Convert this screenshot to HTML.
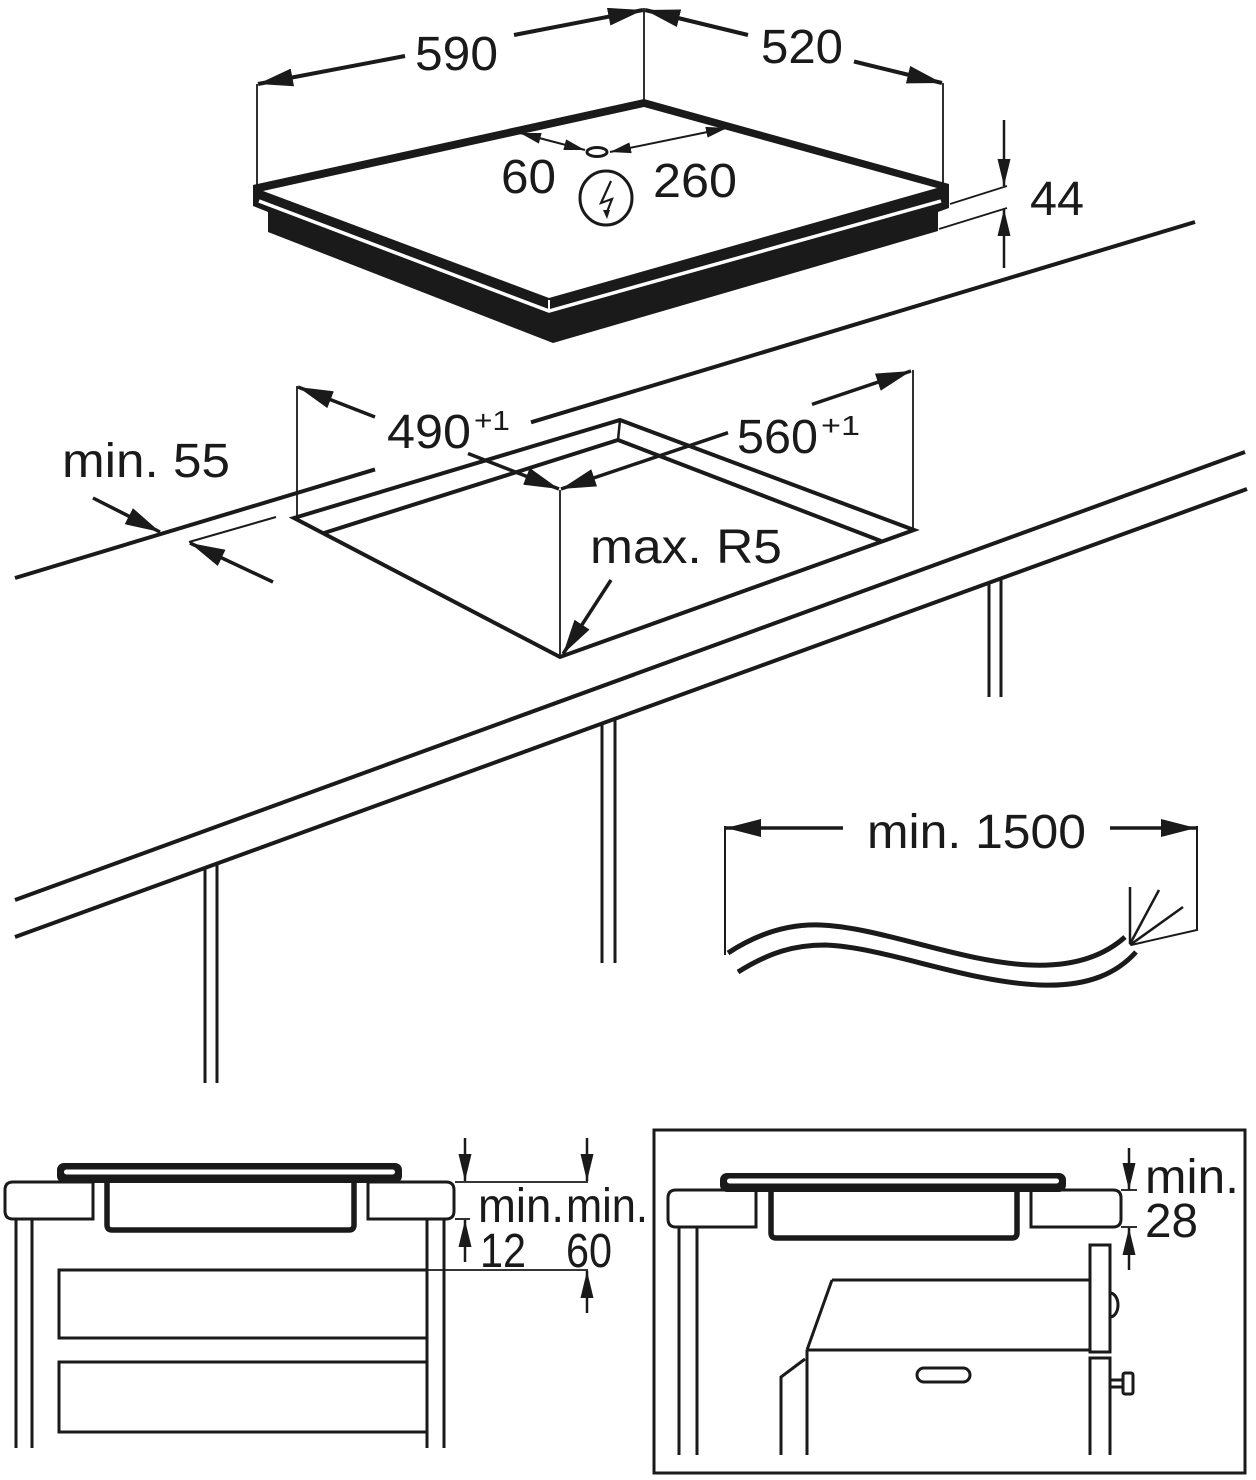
<!DOCTYPE html>
<html><head><meta charset="utf-8">
<style>
html,body{margin:0;padding:0;background:#fff;}
svg{display:block;}
text{font-family:"Liberation Sans",Arial,sans-serif;fill:#1a1a1a;}
</style></head><body>
<svg width="1256" height="1480" viewBox="0 0 1256 1480" xmlns="http://www.w3.org/2000/svg">
<defs>
<marker id="A" markerUnits="userSpaceOnUse" markerWidth="36" markerHeight="18" refX="35" refY="9" orient="auto"><path d="M0,0 L35,9 L0,18 Z" fill="#1a1a1a"/></marker>
<marker id="M" markerUnits="userSpaceOnUse" markerWidth="28" markerHeight="14" refX="27" refY="7" orient="auto"><path d="M0,0.5 L27,7 L0,13.5 Z" fill="#1a1a1a"/></marker>
<marker id="S" markerUnits="userSpaceOnUse" markerWidth="22" markerHeight="11" refX="21" refY="5.5" orient="auto"><path d="M0,0 L21,5.5 L0,11 Z" fill="#1a1a1a"/></marker>
<marker id="Ss" markerUnits="userSpaceOnUse" markerWidth="22" markerHeight="11" refX="21" refY="5.5" orient="auto-start-reverse"><path d="M0,0 L21,5.5 L0,11 Z" fill="#1a1a1a"/></marker>
</defs>

<g stroke="#1a1a1a" fill="none" stroke-linecap="butt">
<!-- ===== TOP HOB ===== -->
<!-- extension lines -->
<line x1="257" y1="84" x2="257" y2="188" stroke-width="1.8"/>
<line x1="644" y1="8" x2="644" y2="100" stroke-width="1.8"/>
<line x1="943" y1="83" x2="943" y2="186" stroke-width="1.8"/>
<!-- 590 -->
<line x1="405" y1="56" x2="258" y2="84" stroke-width="4" marker-end="url(#A)"/>
<line x1="514" y1="35" x2="643" y2="10" stroke-width="4" marker-end="url(#A)"/>
<!-- 520 -->
<line x1="748" y1="35" x2="645" y2="10" stroke-width="4" marker-end="url(#A)"/>
<line x1="854" y1="61.5" x2="942" y2="83" stroke-width="4" marker-end="url(#A)"/>
</g>

<!-- hob body -->
<polygon points="253,185 644,99 949,184 949,208 938,212 938,231 553,343 268,232 268,212 253,206" fill="#1a1a1a"/>
<polygon points="263,191 644,107 937,188 549,298" fill="#fff"/>
<polyline points="259,201 549,311 941,201" fill="none" stroke="#fff" stroke-width="3.5"/>
<line x1="549" y1="300" x2="549" y2="312" stroke="#fff" stroke-width="2"/>

<g stroke="#1a1a1a" fill="none">
<!-- 60 / 260 -->
<line x1="520" y1="133" x2="585" y2="150" stroke-width="2" marker-start="url(#Ss)" marker-end="url(#S)"/>
<line x1="610" y1="152" x2="727" y2="128" stroke-width="2" marker-start="url(#Ss)" marker-end="url(#S)"/>
<ellipse cx="597" cy="152" rx="10" ry="4.5" stroke-width="3" fill="#fff"/>
<!-- electrical symbol -->
<ellipse cx="606" cy="198" rx="26" ry="27" stroke-width="3"/>
<polyline points="611,181 601,203 612,199 607,212" stroke-width="2.2"/>
</g>
<path d="M603,210 L607,219 L610,210 Z" fill="#1a1a1a"/>

<g stroke="#1a1a1a" fill="none">
<!-- 44 -->
<line x1="950" y1="204" x2="1007" y2="186" stroke-width="1.8"/>
<line x1="939" y1="229" x2="1007" y2="208" stroke-width="1.8"/>
<line x1="1004" y1="120" x2="1004" y2="186" stroke-width="2.5" marker-end="url(#M)"/>
<line x1="1004" y1="268" x2="1004" y2="209" stroke-width="2.5" marker-end="url(#M)"/>

<!-- ===== COUNTERTOP ===== -->
<line x1="1195" y1="222" x2="531" y2="422.3" stroke-width="4"/>
<line x1="375" y1="469.4" x2="15" y2="578" stroke-width="4"/>
<line x1="189" y1="542" x2="276" y2="517" stroke-width="2"/>
<line x1="93" y1="498" x2="160" y2="532" stroke-width="3.5" marker-end="url(#A)"/>
<line x1="273" y1="582" x2="190" y2="543" stroke-width="3.5" marker-end="url(#A)"/>

<!-- cutout -->
<polygon points="294,518 620,420 914,530 560,657" stroke-width="4" stroke-linejoin="miter"/>
<polyline points="324,533 618,440 881,541" stroke-width="4"/>
<line x1="620" y1="420" x2="618" y2="440" stroke-width="2.5"/>
<!-- extension -->
<line x1="297" y1="386" x2="297" y2="518" stroke-width="1.8"/>
<line x1="913" y1="370" x2="913" y2="530" stroke-width="1.8"/>
<line x1="560" y1="490" x2="560" y2="657" stroke-width="1.8"/>
<!-- 490 -->
<line x1="375" y1="417" x2="298" y2="387" stroke-width="3.5" marker-end="url(#A)"/>
<line x1="468" y1="453.5" x2="559" y2="489" stroke-width="3.5" marker-end="url(#A)"/>
<!-- 560 -->
<line x1="728" y1="432.7" x2="561" y2="489" stroke-width="3.5" marker-end="url(#A)"/>
<line x1="812" y1="404.4" x2="911" y2="371" stroke-width="3.5" marker-end="url(#A)"/>
<!-- R5 -->
<line x1="611" y1="580" x2="563" y2="654" stroke-width="3.5" marker-end="url(#A)"/>

<!-- front lines -->
<line x1="1245" y1="452" x2="15" y2="900" stroke-width="4"/>
<line x1="1247" y1="489" x2="15" y2="937" stroke-width="4"/>
<!-- legs -->
<line x1="205" y1="867.8" x2="205" y2="1083" stroke-width="3"/>
<line x1="217" y1="863.4" x2="217" y2="1083" stroke-width="3"/>
<line x1="602" y1="723" x2="602" y2="963" stroke-width="3"/>
<line x1="615" y1="718.4" x2="615" y2="963" stroke-width="3"/>
<line x1="989" y1="582" x2="989" y2="697" stroke-width="3"/>
<line x1="1001" y1="577.8" x2="1001" y2="697" stroke-width="3"/>

<!-- ===== CABLE ===== -->
<line x1="725" y1="826" x2="725" y2="955" stroke-width="2"/>
<line x1="843" y1="828" x2="726" y2="828" stroke-width="3.5" marker-end="url(#A)"/>
<line x1="1110" y1="828" x2="1196" y2="828" stroke-width="3.5" marker-end="url(#A)"/>
<polyline points="1197,826 1197,930 1131,945" stroke-width="2"/>
<path d="M728,953 C760,932 790,924 820,925 C880,927 960,962 1030,965 C1075,967 1105,955 1125,937" stroke-width="5"/>
<path d="M738,972 C770,952 795,945 825,945 C885,947 965,982 1040,985 C1090,987 1118,972 1136,952" stroke-width="5"/>
<line x1="1130" y1="887" x2="1130" y2="944" stroke-width="2.5"/>
<line x1="1130" y1="944" x2="1159" y2="890" stroke-width="2.5"/>
<line x1="1130" y1="945" x2="1183" y2="907" stroke-width="2.5"/>
</g>

<!-- ===== BOTTOM LEFT ===== -->
<rect x="57" y="1163" width="345" height="20" rx="7" fill="#1a1a1a"/>
<rect x="64" y="1169.5" width="331" height="5" rx="2.5" fill="#fff"/>
<g stroke="#1a1a1a" fill="none" stroke-width="3">
<path d="M93,1182 H13 Q5,1182 5,1190 V1211 Q5,1219 13,1219 H93 Z"/>
<path d="M368,1182 H446 Q454,1182 454,1190 V1211 Q454,1219 446,1219 H368 Z"/>
<path d="M107,1183 V1225 Q107,1230 112,1230 H349 Q354,1230 354,1225 V1183" stroke-width="5.5"/>
<line x1="16" y1="1219" x2="16" y2="1448"/>
<line x1="32" y1="1219" x2="32" y2="1448"/>
<line x1="427" y1="1219" x2="427" y2="1448"/>
<line x1="444" y1="1219" x2="444" y2="1448"/>
<path d="M427,1270 H59 V1338 H427"/>
<path d="M427,1362 H59 V1432 H427"/>
<line x1="455" y1="1182" x2="588" y2="1182" stroke-width="1.8"/>
<line x1="455" y1="1219" x2="470" y2="1219" stroke-width="1.8"/>
<line x1="427" y1="1270" x2="588" y2="1270" stroke-width="1.8"/>
<line x1="465" y1="1138" x2="465" y2="1181" stroke-width="2.5" marker-end="url(#M)"/>
<line x1="465" y1="1262" x2="465" y2="1220" stroke-width="2.5" marker-end="url(#M)"/>
<line x1="587" y1="1138" x2="587" y2="1181" stroke-width="2.5" marker-end="url(#M)"/>
<line x1="587" y1="1313" x2="587" y2="1271" stroke-width="2.5" marker-end="url(#M)"/>
</g>

<!-- ===== BOTTOM RIGHT ===== -->
<rect x="654" y="1130" width="591" height="343" fill="none" stroke="#1a1a1a" stroke-width="3"/>
<rect x="720" y="1173" width="346" height="19" rx="7" fill="#1a1a1a"/>
<rect x="727" y="1178.5" width="332" height="5" rx="2.5" fill="#fff"/>
<g stroke="#1a1a1a" fill="none" stroke-width="3">
<path d="M756,1190 H676 Q668,1190 668,1198 V1219 Q668,1227 676,1227 H756 Z"/>
<path d="M1031,1190 H1113 Q1121,1190 1121,1198 V1219 Q1121,1227 1113,1227 H1031 Z"/>
<path d="M771,1192 V1233 Q771,1238 776,1238 H1012 Q1017,1238 1017,1233 V1192" stroke-width="5.5"/>
<line x1="679" y1="1227" x2="679" y2="1455"/>
<line x1="697" y1="1227" x2="697" y2="1455"/>
<line x1="1121" y1="1190" x2="1137" y2="1190" stroke-width="1.8"/>
<line x1="1121" y1="1227" x2="1137" y2="1227" stroke-width="1.8"/>
<line x1="1129" y1="1148" x2="1129" y2="1190" stroke-width="2.5" marker-end="url(#M)"/>
<line x1="1129" y1="1270" x2="1129" y2="1228" stroke-width="2.5" marker-end="url(#M)"/>
<!-- oven -->
<line x1="832" y1="1280" x2="1090" y2="1280"/>
<line x1="832" y1="1280" x2="807" y2="1350"/>
<line x1="807" y1="1350" x2="1090" y2="1350"/>
<line x1="807" y1="1350" x2="807" y2="1455"/>
<polyline points="781,1455 781,1377 805,1359"/>
<rect x="1090" y="1245" width="20" height="107"/>
<path d="M1090,1455 V1358 H1110 V1455"/>
<path d="M1110,1293 A8,12 0 0 1 1110,1317"/>
<rect x="1110" y="1380" width="13" height="7"/>
<rect x="1123" y="1373" width="10" height="21" rx="2"/>
<rect x="917" y="1368" width="53" height="14" rx="7"/>
</g>

<!-- ===== TEXT ===== -->
<g font-size="48">
<text x="415" y="70" textLength="83" lengthAdjust="spacingAndGlyphs">590</text>
<text x="761" y="63" textLength="82" lengthAdjust="spacingAndGlyphs">520</text>
<text x="501" y="193" textLength="55" lengthAdjust="spacingAndGlyphs">60</text>
<text x="653" y="197" textLength="84" lengthAdjust="spacingAndGlyphs">260</text>
<text x="1030" y="215" textLength="54" lengthAdjust="spacingAndGlyphs">44</text>
<text x="62" y="477" textLength="168" lengthAdjust="spacingAndGlyphs">min. 55</text>
<text x="387" y="448" textLength="84" lengthAdjust="spacingAndGlyphs">490</text>
<text x="737" y="453" textLength="81" lengthAdjust="spacingAndGlyphs">560</text>
<text x="590" y="563" textLength="192" lengthAdjust="spacingAndGlyphs">max. R5</text>
<text x="867" y="848" textLength="219" lengthAdjust="spacingAndGlyphs">min. 1500</text>
<text x="478" y="1222" textLength="86" lengthAdjust="spacingAndGlyphs">min.</text>
<text x="566" y="1222" textLength="82" lengthAdjust="spacingAndGlyphs">min.</text>
<text x="480" y="1267" textLength="46" lengthAdjust="spacingAndGlyphs">12</text>
<text x="566" y="1267" textLength="46" lengthAdjust="spacingAndGlyphs">60</text>
<text x="1145" y="1193" textLength="94" lengthAdjust="spacingAndGlyphs">min.</text>
<text x="1145" y="1237" textLength="53" lengthAdjust="spacingAndGlyphs">28</text>
</g>
<g font-size="28">
<text x="474" y="430" textLength="36" lengthAdjust="spacingAndGlyphs">+1</text>
<text x="821" y="435" textLength="39" lengthAdjust="spacingAndGlyphs">+1</text>
</g>
</svg>
</body></html>
